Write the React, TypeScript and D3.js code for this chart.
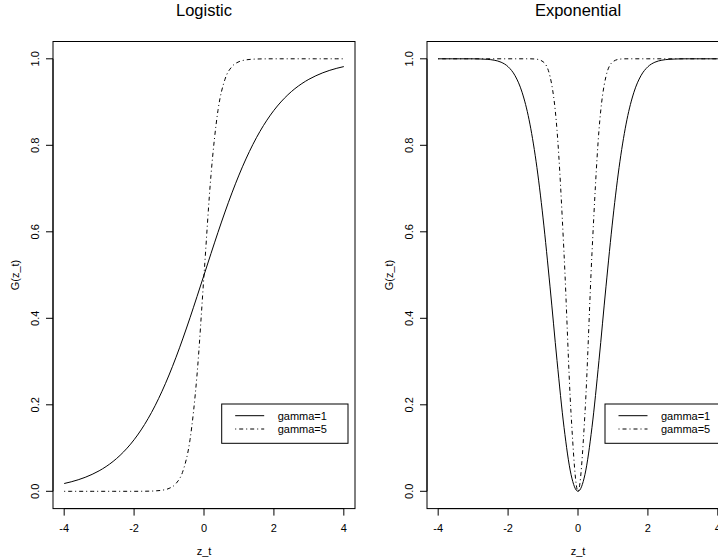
import React from "react";
import * as d3 from "d3";

const zValues = [
  -4.0, -3.8, -3.6, -3.4, -3.2, -3.0, -2.8, -2.6, -2.4, -2.2, -2.0, -1.8, -1.6, -1.4,
  -1.2, -1.0, -0.8, -0.6, -0.4, -0.2, 0.0, 0.2, 0.4, 0.6, 0.8, 1.0, 1.2, 1.4, 1.6,
  1.8, 2.0, 2.2, 2.4, 2.6, 2.8, 3.0, 3.2, 3.4, 3.6, 3.8, 4.0,
];

const logisticGamma1 = [
  0.018, 0.0219, 0.0266, 0.0323, 0.0392, 0.0474, 0.0573, 0.0691, 0.0832, 0.0998,
  0.1192, 0.1419, 0.168, 0.1978, 0.2315, 0.2689, 0.31, 0.3543, 0.4013, 0.4502, 0.5,
  0.5498, 0.5987, 0.6457, 0.69, 0.7311, 0.7685, 0.8022, 0.832, 0.8581, 0.8808,
  0.9002, 0.9168, 0.9309, 0.9427, 0.9526, 0.9608, 0.9677, 0.9734, 0.9781, 0.982,
];

const logisticGamma5 = [
  0, 0, 0, 0, 0, 0, 0, 0, 0, 0, 0, 0.0001, 0.0003, 0.0009, 0.0025, 0.0067, 0.018,
  0.0474, 0.1192, 0.2689, 0.5, 0.7311, 0.8808, 0.9526, 0.982, 0.9933, 0.9975, 0.9991,
  0.9997, 0.9999, 1, 1, 1, 1, 1, 1, 1, 1, 1, 1, 1,
];

const exponentialGamma1 = [
  1, 1, 1, 1, 1, 0.9999, 0.9996, 0.9988, 0.9968, 0.9921, 0.9817, 0.9608, 0.9227,
  0.8591, 0.7631, 0.6321, 0.4727, 0.3023, 0.1479, 0.0392, 0, 0.0392, 0.1479, 0.3023,
  0.4727, 0.6321, 0.7631, 0.8591, 0.9227, 0.9608, 0.9817, 0.9921, 0.9968, 0.9988,
  0.9996, 0.9999, 1, 1, 1, 1, 1,
];

const exponentialGamma5 = [
  1, 1, 1, 1, 1, 1, 1, 1, 1, 1, 1, 1, 1, 1, 0.9993, 0.9933, 0.9592, 0.8347, 0.5507,
  0.1813, 0, 0.1813, 0.5507, 0.8347, 0.9592, 0.9933, 0.9993, 1, 1, 1, 1, 1, 1, 1, 1,
  1, 1, 1, 1, 1, 1,
];

const xTicks = [-4, -2, 0, 2, 4];
const yTicks = [0, 0.2, 0.4, 0.6, 0.8, 1.0];
const legendLabels = ["gamma=1", "gamma=5"];
const panelTitles = ["Logistic", "Exponential"];
const xLabel = "z_t";
const yLabel = "G(z_t)";

const FONT = "'Liberation Sans', Arial, Helvetica, sans-serif";
const DASH = "1 3 4 3";

const panels = [
  { title: panelTitles[0], s1: logisticGamma1, s5: logisticGamma5, offset: 0, legendX: 221.7 },
  { title: panelTitles[1], s1: exponentialGamma1, s5: exponentialGamma5, offset: 374, legendX: 605 - 374 },
];

function Panel({ p }: { p: (typeof panels)[number] }) {
  const left = 53;
  const right = 355;
  const top = 41.5;
  const bottom = 508.6;
  const x = d3.scaleLinear().domain([-4.32, 4.32]).range([left, right]);
  const y = d3.scaleLinear().domain([-0.04, 1.04]).range([bottom, top]);
  const line = d3
    .line<number>()
    .x((_, i) => x(zValues[i]))
    .y((d) => y(d))
    .curve(d3.curveMonotoneX);
  const fmt = d3.format(".1f");
  const lx = p.legendX;
  const legendW = 126.3;
  return (
    <g transform={`translate(${p.offset},0)`}>
      <text x={(left + right) / 2} y={16} textAnchor="middle" fontSize={16.5} fontFamily={FONT}>
        {p.title}
      </text>
      <rect x={left} y={top} width={right - left} height={bottom - top} fill="none" stroke="#000" strokeWidth={1} />
      {/* x axis */}
      <line x1={x(xTicks[0])} x2={x(xTicks[xTicks.length - 1])} y1={bottom} y2={bottom} stroke="#000" />
      {xTicks.map((t) => (
        <g key={"x" + t}>
          <line x1={x(t)} x2={x(t)} y1={bottom} y2={bottom + 7} stroke="#000" />
          <text x={x(t)} y={531.5} textAnchor="middle" fontSize={11} fontFamily={FONT}>
            {t}
          </text>
        </g>
      ))}
      <text x={(left + right) / 2} y={554.5} textAnchor="middle" fontSize={11} fontFamily={FONT}>
        {xLabel}
      </text>
      {/* y axis */}
      <line x1={left} x2={left} y1={y(yTicks[0])} y2={y(yTicks[yTicks.length - 1])} stroke="#000" />
      {yTicks.map((t) => (
        <g key={"y" + t}>
          <line x1={left - 7} x2={left} y1={y(t)} y2={y(t)} stroke="#000" />
          <text
            transform={`translate(35,${y(t)}) rotate(-90)`}
            textAnchor="middle"
            dy="0.35em"
            fontSize={11}
            fontFamily={FONT}
          >
            {fmt(t)}
          </text>
        </g>
      ))}
      <text
        transform={`translate(15,${(top + bottom) / 2}) rotate(-90)`}
        textAnchor="middle"
        dy="0.35em"
        fontSize={11}
        fontFamily={FONT}
      >
        {yLabel}
      </text>
      {/* curves */}
      <path d={line(p.s1) || ""} fill="none" stroke="#000" strokeWidth={1} />
      <path d={line(p.s5) || ""} fill="none" stroke="#000" strokeWidth={1} strokeDasharray={DASH} />
      {/* legend */}
      <rect x={lx} y={404} width={legendW} height={39.3} fill="#fff" stroke="#000" strokeWidth={1} />
      {legendLabels.map((lab, i) => {
        const ly = 415.7 + i * 13.3;
        return (
          <g key={lab}>
            <line
              x1={lx + 13.5}
              x2={lx + 42.5}
              y1={ly}
              y2={ly}
              stroke="#000"
              strokeWidth={1}
              strokeDasharray={i === 1 ? DASH : undefined}
            />
            <text x={lx + 56} y={ly} dy="0.35em" fontSize={11} fontFamily={FONT}>
              {lab}
            </text>
          </g>
        );
      })}
    </g>
  );
}

export default function App() {
  return (
    <svg
      width={718}
      height={560}
      style={{ position: "fixed", left: 0, top: 0, background: "#fff", display: "block" }}
    >
      <rect width={718} height={560} fill="#fff" />
      {panels.map((p) => (
        <Panel key={p.title} p={p} />
      ))}
    </svg>
  );
}
